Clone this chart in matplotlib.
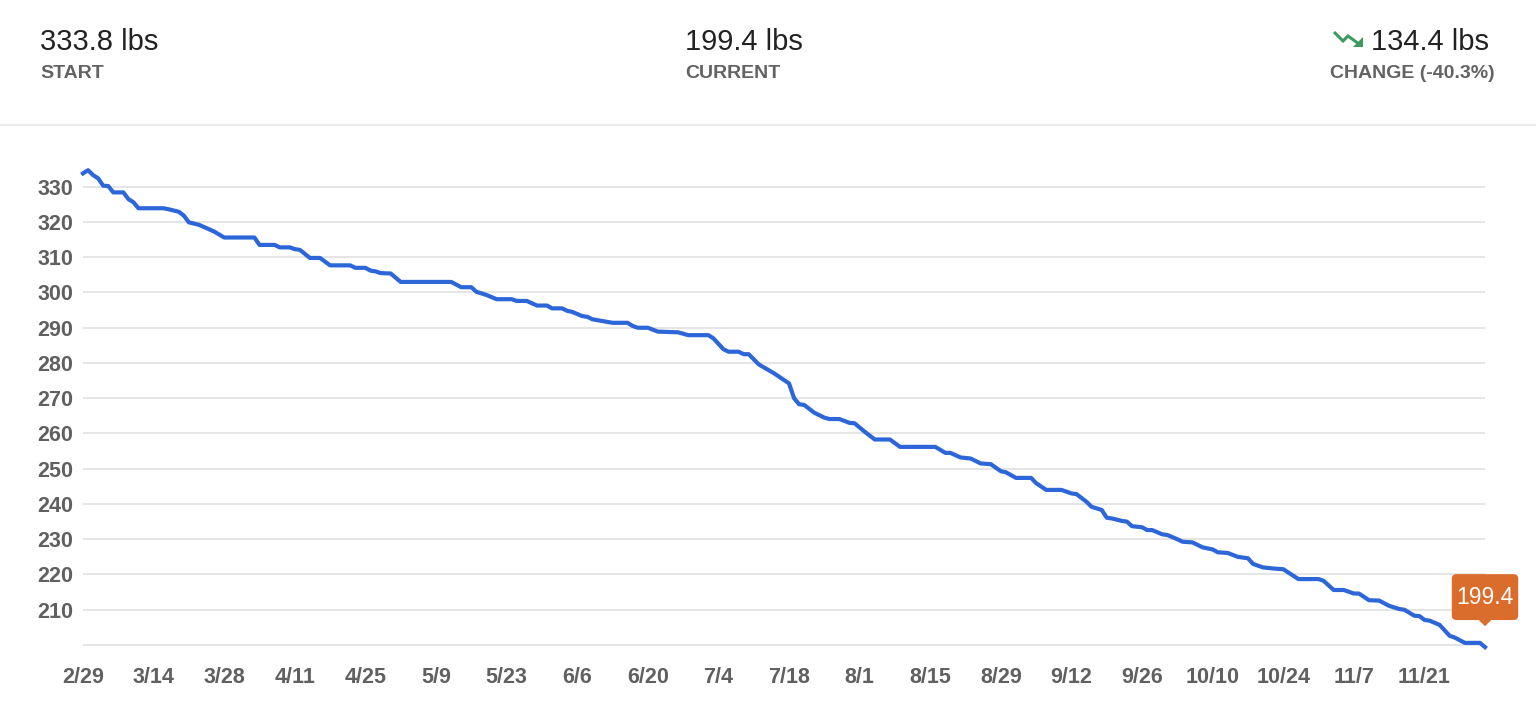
import matplotlib
matplotlib.use('Agg')
import matplotlib.pyplot as plt
import numpy as np
import pandas as pd
from matplotlib.path import Path

plt.rcParams['font.family'] = ['Liberation Sans', 'DejaVu Sans']

day_offsets = [0, 1, 2, 3, 4, 5, 6, 8, 9, 10, 11, 16, 17, 19, 20, 21, 23, 26, 28, 34,
               35, 38, 39, 41, 42, 43, 45, 47, 49, 53, 54, 56, 57, 58, 59, 61, 63, 73, 75, 77,
               78, 80, 82, 85, 86, 88, 90, 92, 93, 95, 96, 97, 99, 100, 101, 103, 105, 108, 109, 110,
               112, 114, 118, 120, 124, 125, 127, 128, 130, 131, 132, 134, 137, 140, 141, 142, 143, 145, 147, 148,
               150, 152, 153, 155, 157, 160, 162, 169, 171, 172, 174, 176, 178, 180, 182, 183, 185, 188, 189, 191,
               194, 196, 197, 199, 200, 202, 203, 204, 206, 207, 208, 210, 211, 212, 214, 215, 217, 218, 220, 222,
               223, 224, 225, 227, 229, 231, 232, 234, 236, 238, 241, 245, 246, 248, 250, 252, 253, 255, 257, 259,
               261, 262, 264, 265, 266, 267, 269, 271, 272, 274, 277, 278]
weights = [333.8, 334.7, 333.3, 332.4, 330.3, 330.2, 328.4, 328.4, 326.5, 325.6, 323.9, 323.9, 323.6, 322.9, 321.8, 319.9, 319.2, 317.3, 315.6, 315.6,
           313.5, 313.5, 312.8, 312.8, 312.3, 312.1, 309.8, 309.8, 307.7, 307.7, 307.0, 307.0, 306.2, 306.0, 305.5, 305.4, 303.0, 303.0, 301.5, 301.5,
           300.2, 299.3, 298.1, 298.1, 297.6, 297.6, 296.3, 296.3, 295.5, 295.5, 294.8, 294.5, 293.3, 293.1, 292.4, 291.9, 291.4, 291.4, 290.5, 290.0,
           290.0, 288.9, 288.7, 287.9, 287.9, 287.0, 283.9, 283.2, 283.2, 282.5, 282.5, 279.6, 277.1, 274.2, 270.0, 268.3, 268.1, 265.9, 264.5, 264.1,
           264.1, 263.0, 262.9, 260.5, 258.3, 258.3, 256.2, 256.2, 254.5, 254.5, 253.2, 252.9, 251.5, 251.3, 249.3, 249.0, 247.4, 247.4, 245.9, 244.0,
           244.0, 243.0, 242.8, 240.6, 239.2, 238.3, 236.1, 235.9, 235.2, 235.0, 233.7, 233.4, 232.6, 232.6, 231.4, 231.2, 230.0, 229.3, 229.1, 227.7,
           227.4, 227.1, 226.3, 226.1, 225.0, 224.6, 223.0, 222.0, 221.7, 221.5, 218.7, 218.7, 218.2, 215.6, 215.6, 214.6, 214.6, 212.7, 212.6, 211.1,
           210.2, 210.0, 208.3, 208.2, 207.1, 206.9, 205.7, 202.6, 202.1, 200.6, 200.6, 199.4]

tick_labels = ['2/29', '3/14', '3/28', '4/11', '4/25', '5/9', '5/23', '6/6', '6/20', '7/4',
               '7/18', '8/1', '8/15', '8/29', '9/12', '9/26', '10/10', '10/24', '11/7', '11/21']
y_ticks = [200, 210, 220, 230, 240, 250, 260, 270, 280, 290, 300, 310, 320, 330]

start_date = pd.Timestamp('2024-02-29')
dates = start_date + pd.to_timedelta(day_offsets, unit='D')
tick_dates = start_date + pd.to_timedelta(np.arange(len(tick_labels)) * 14, unit='D')

start_w = weights[0]
current_w = weights[-1]
change_w = start_w - current_w
change_pct = -change_w / start_w * 100

W, H = 1536, 706
fig = plt.figure(figsize=(W / 100, H / 100), dpi=100)
fig.patch.set_facecolor('white')

# ejes del grafico
ax = fig.add_axes([83 / W, 1 - 647.1 / H, (1485 - 83) / W, (647.1 - 165.6) / H])
ax.plot(dates, weights, color='#2d66d8', lw=3, solid_joinstyle='round', zorder=3, clip_on=False)
ax.set_xlim(dates[0], dates[-1])
ax.set_ylim(min(weights), 336)
ax.set_yticks(y_ticks)
ax.set_yticklabels(['' if v == 200 else str(v) for v in y_ticks])
ax.set_xticks(tick_dates)
ax.set_xticklabels(tick_labels)
ax.grid(axis='y', color='#e3e3e3', lw=1.3)
ax.set_axisbelow(True)
ax.tick_params(length=0, labelsize=15.5, labelcolor='#606060')
ax.tick_params(axis='x', pad=14)
ax.tick_params(axis='y', pad=7)
for lbl in ax.get_xticklabels() + ax.get_yticklabels():
    lbl.set_fontweight('bold')
for s in ax.spines.values():
    s.set_visible(False)


# caja naranja con el ultimo valor
def tooltip_box(x0, y0, width, height, mutation_size):
    px, py = 0.2 * mutation_size, 0.5 * mutation_size
    r = 0.2 * mutation_size
    t = 0.27 * mutation_size
    x0, y0 = x0 - px, y0 - py
    x1, y1 = x0 + width + 2 * px, y0 + height + 2 * py
    xm = (x0 + x1) / 2
    verts = [(x0 + r, y0), (xm - t, y0), (xm, y0 - t), (xm + t, y0), (x1 - r, y0),
             (x1, y0), (x1, y0 + r), (x1, y1 - r), (x1, y1), (x1 - r, y1),
             (x0 + r, y1), (x0, y1), (x0, y1 - r), (x0, y0 + r), (x0, y0), (x0 + r, y0)]
    codes = [Path.MOVETO, Path.LINETO, Path.LINETO, Path.LINETO, Path.LINETO,
             Path.CURVE3, Path.CURVE3, Path.LINETO, Path.CURVE3, Path.CURVE3,
             Path.LINETO, Path.CURVE3, Path.CURVE3, Path.LINETO, Path.CURVE3, Path.CURVE3]
    return Path(verts, codes)


ax.annotate(f'{current_w:.1f}', xy=(dates[-1], current_w), xytext=(0, 50),
            textcoords='offset pixels', ha='center', va='center', fontsize=16.5,
            color='white', zorder=5, annotation_clip=False,
            bbox=dict(boxstyle=tooltip_box, fc='#db6d2c', ec='none'))

# cabecera
hax = fig.add_axes([0, 0, 1, 1], zorder=-1)
hax.set_xlim(0, W)
hax.set_ylim(H, 0)
hax.axis('off')

big = dict(fontsize=21, color='#222222', va='baseline')
small = dict(fontsize=14, color='#636363', fontweight='bold', va='baseline')
hax.text(40, 50.5, f'{start_w:.1f} lbs', ha='left', **big)
hax.text(40, 78, 'START', ha='left', **small)
hax.text(685, 50.5, f'{current_w:.1f} lbs', ha='left', **big)
hax.text(685, 78, 'CURRENT', ha='left', **small)
hax.text(1489, 50.5, f'{change_w:.1f} lbs', ha='right', **big)
hax.text(1495, 78, f'CHANGE ({change_pct:.1f}%)', ha='right', **small)
hax.plot([0, W], [125, 125], color='#ebebeb', lw=1.5)

# icono de tendencia a la baja
icon_green = '#3c9a5f'
hax.plot([1334, 1343, 1348, 1359], [32, 41, 36, 44], color=icon_green, lw=2.2,
         solid_joinstyle='miter', solid_capstyle='butt')
hax.fill([1363, 1363, 1353], [37, 47, 47], color=icon_green, lw=0)

fig.savefig('out.png', dpi=100, facecolor='white')
